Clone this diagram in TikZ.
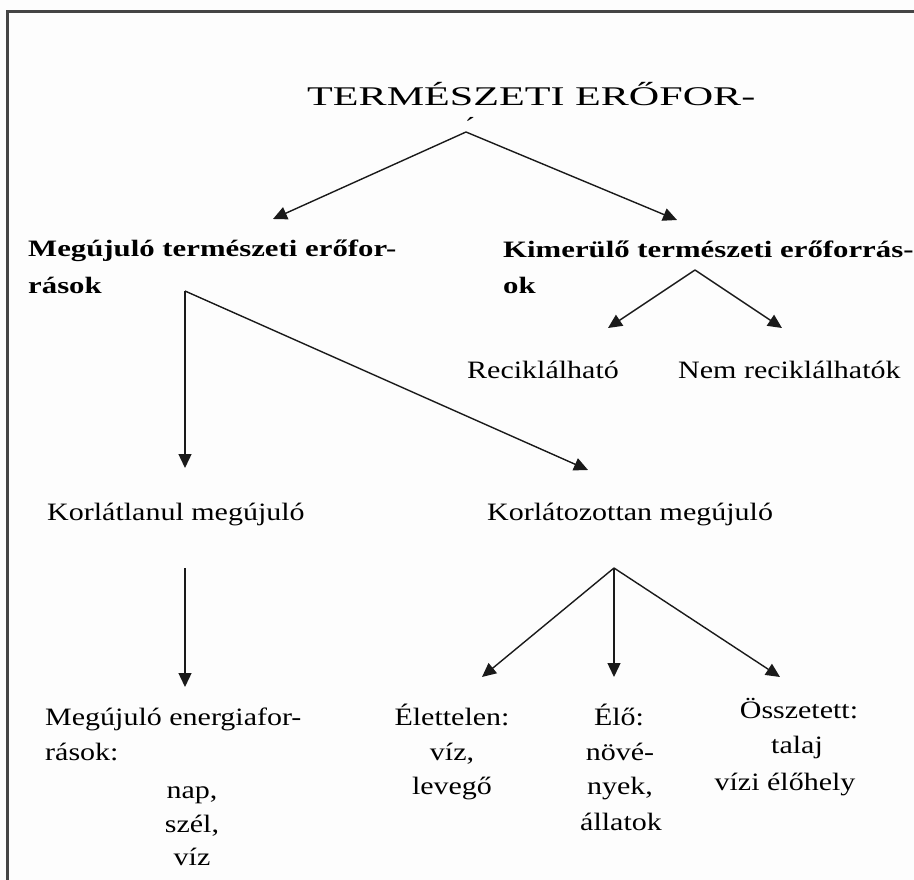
\documentclass[tikz,border=0pt]{standalone}
\usepackage{fontspec}
\setmainfont{Liberation Serif}[FakeStretch=1.2]
\newfontfamily\titlefont{Liberation Serif}[FakeStretch=1.56]
\newfontfamily\headfont{Liberation Serif}[FakeStretch=1.31]
\usetikzlibrary{arrows.meta}
\definecolor{framegray}{HTML}{454545}
\definecolor{paper}{HTML}{FDFDFD}
\definecolor{inkline}{HTML}{1A1A1A}

\begin{document}
\begin{tikzpicture}[x=1pt,y=-1pt,
  lbl/.style={inner sep=0pt,font=\fontsize{25}{30}\selectfont},
  lblw/.style={lbl,anchor=base west},
  lblc/.style={lbl,anchor=base},
  head/.style={inner sep=0pt,anchor=base west,font=\headfont\bfseries\fontsize{23.5}{28}\selectfont},
  arr/.style={line width=1.4pt,draw=inkline,-{Triangle[length=14pt,width=13pt]}},
  ]
\useasboundingbox (0,0) rectangle (914,880);
\fill[paper] (0,0) rectangle (914,880);

% open frame: only the top and left edges fall inside the page
\begin{scope}
  \clip (0,0) rectangle (914,880);
  \draw[framegray,line width=3pt] (7,920) -- (7,12) -- (940,12);
\end{scope}

% title
\node[inner sep=0pt,anchor=base west,font=\titlefont\fontsize{27}{30}\selectfont] (title) at (307,106) {TERMÉSZETI ERŐFOR-};
\node[inner sep=0pt,anchor=base,font=\fontsize{26}{30}\selectfont] (accent) at (470,136) {´};

% second level
\node[head] (ren1) at (28,257) {Megújuló természeti erőfor-};
\node[head] (ren2) at (28,293) {rások};
\node[head] (exh1) at (503,258) {Kimerülő természeti erőforrás-};
\node[head] (exh2) at (503,294) {ok};

% exhaustible branch
\node[lblw] (rec) at (467,378) {Reciklálható};
\node[lblw] (nrec) at (678,378) {Nem reciklálhatók};

% renewable branch
\node[lblw] (unl) at (47,520) {Korlátlanul megújuló};
\node[lblw] (lim) at (487,520) {Korlátozottan megújuló};

\node[lblw] (en1) at (45,725) {Megújuló energiafor-};
\node[lblw] (en2) at (45,760) {rások:};
\node[lblc] (nap) at (192,798) {nap,};
\node[lblc] (szel) at (192,832) {szél,};
\node[lblc] (viz) at (192,865) {víz};

\node[lblc] (elet1) at (452,725) {Élettelen:};
\node[lblc] (elet2) at (452,760) {víz,};
\node[lblc] (elet3) at (452,794) {levegő};

\node[lblc] (elo1) at (619,725) {Élő:};
\node[lblc] (elo2) at (620,760) {növé-};
\node[lblc] (elo3) at (620,794) {nyek,};
\node[lblc] (elo4) at (621,830) {állatok};

\node[lblc] (ossz1) at (799,718) {Összetett:};
\node[lblc] (ossz2) at (797,753) {talaj};
\node[lblc] (ossz3) at (785,790) {vízi élőhely};

% branching points and arrow tips
\coordinate (titleFork) at (466,132);
\coordinate (renTip) at (273,219);
\coordinate (exhTip) at (677,220);

\coordinate (exhFork) at (695,270);
\coordinate (recTip) at (608,328);
\coordinate (nrecTip) at (782,328);

\coordinate (renFork) at (185,291);
\coordinate (unlTip) at (185,468);
\coordinate (limTip) at (588,470);

\coordinate (unlFoot) at (185,568);
\coordinate (enTip) at (185,687);

\coordinate (limFork) at (614,568);
\coordinate (eletTip) at (482,677);
\coordinate (eloTip) at (614,677);
\coordinate (osszTip) at (780,677);

% connectors
\draw[arr] (titleFork) -- (renTip);
\draw[arr] (titleFork) -- (exhTip);
\draw[arr] (exhFork) -- (recTip);
\draw[arr] (exhFork) -- (nrecTip);
\draw[arr] (renFork) -- (unlTip);
\draw[arr] (renFork) -- (limTip);
\draw[arr] (unlFoot) -- (enTip);
\draw[arr] (limFork) -- (eletTip);
\draw[arr] (limFork) -- (eloTip);
\draw[arr] (limFork) -- (osszTip);
\end{tikzpicture}
\end{document}
